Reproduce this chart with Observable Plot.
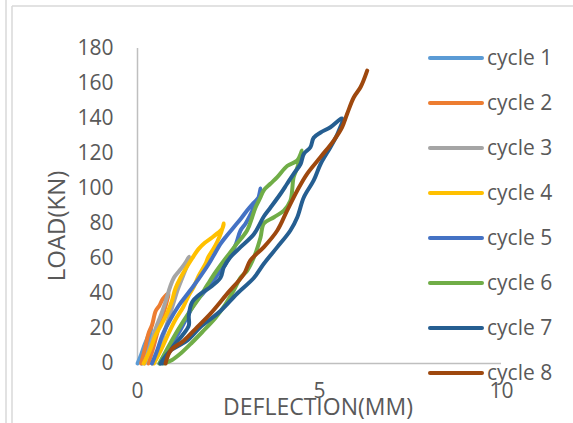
<!DOCTYPE html>
<html>
<head>
<meta charset="utf-8">
<script src="https://cdn.jsdelivr.net/npm/d3@7"></script>
<script src="https://cdn.jsdelivr.net/npm/@observablehq/plot@0.6"></script>
<style>
  html, body { margin: 0; padding: 0; background: #fff; }
  #chart { width: 573px; height: 423px; position: relative; }
</style>
</head>
<body>
<div id="chart"></div>
<script>
// ---- data (deflection mm, load kN) ----
const seriesNames = ["cycle 1", "cycle 2", "cycle 3", "cycle 4", "cycle 5", "cycle 6", "cycle 7", "cycle 8"];
const seriesColors = ["#5B9BD5", "#ED7D31", "#A5A5A5", "#FFC000", "#4472C4", "#70AD47", "#255E91", "#9E480E"];
const xTicks = [0, 5, 10];
const yTicks = [0, 20, 40, 60, 80, 100, 120, 140, 160, 180];

const cycle1 = [[0,0],[0.1,5],[0.2,11],[0.3,16],[0.38,20.5],[0.36,18],[0.3,12],[0.22,6],[0.12,0]];
const cycle2 = [[0.1,0],[0.2,8],[0.3,17],[0.4,22],[0.5,30],[0.6,33],[0.7,37],[0.85,40],[0.8,35],[0.7,28],[0.55,18],[0.42,8],[0.3,0]];
const cycle3 = [[0.2,0],[0.35,10],[0.5,20],[0.65,28],[0.78,36],[0.9,44],[1.0,49],[1.15,53],[1.3,57],[1.42,61],[1.38,57],[1.25,50],[1.1,42],[0.95,32],[0.8,22],[0.65,12],[0.5,4],[0.4,0]];
const cycle4 = [[0.17,0],[0.35,8],[0.49,16],[0.65,22],[0.82,29],[0.95,36],[1.04,42.7],[1.18,49],[1.32,54],[1.5,60],[1.68,65.5],[1.85,69],[2.05,72],[2.2,74.5],[2.33,77],[2.37,80],[2.3,75],[2.2,70],[2.1,66],[1.95,61],[1.87,57],[1.68,50],[1.55,44],[1.41,39],[1.25,32],[1.04,25],[0.85,17],[0.65,8],[0.45,0]];
const cycle5 = [[0.4,0],[0.55,8],[0.68,16],[0.86,23.6],[1.13,33],[1.41,40.7],[1.68,48.4],[1.96,57],[2.1,62],[2.28,68.4],[2.45,73],[2.65,78],[2.85,83],[3.01,87.4],[3.2,92],[3.33,95],[3.38,100],[3.3,93],[3.15,87],[2.97,80],[2.83,76],[2.7,68],[2.55,62],[2.4,56],[2.28,53],[2.05,46.5],[1.8,40],[1.59,35],[1.4,28],[1.2,20],[1.0,13],[0.8,6],[0.62,0]];
const cycle6 = [[0.6,0],[0.86,10],[1.13,19.8],[1.41,29],[1.68,37],[1.91,44.6],[2.14,52],[2.42,60],[2.69,67.4],[3.01,76],[3.15,83.6],[3.24,89],[3.38,95],[3.47,99],[3.65,102.7],[3.84,106.5],[4.12,113],[4.39,116],[4.52,121.7],[4.39,112],[4.29,106.5],[4.2,93],[4.02,87.4],[3.75,83.6],[3.47,80],[3.38,72],[3.2,60.7],[3.01,53],[2.83,49],[2.65,42],[2.42,34],[2.14,26],[1.78,18],[1.5,12],[1.2,6],[0.95,2],[0.72,0]];
const cycle7 = [[0.63,0],[0.91,7.4],[1.36,13],[1.73,20.8],[2.28,30],[2.74,40],[3.2,49],[3.47,57],[3.84,66.5],[4.2,76],[4.39,83.6],[4.57,95],[4.84,104.6],[5.03,114],[5.3,123.6],[5.49,131],[5.62,140],[5.3,135],[5.03,132],[4.84,129],[4.75,123.6],[4.57,119.8],[4.48,114],[4.29,108.4],[4.11,102.7],[3.93,97],[3.65,89],[3.47,84],[3.2,74],[2.83,66.5],[2.55,60.7],[2.37,55],[2.28,49],[2.0,43.6],[1.73,39.8],[1.5,35],[1.41,27.4],[1.41,21.7],[1.23,16],[1.0,10.3],[0.82,4.6],[0.68,0]];
const cycle8 = [[0.77,0],[0.91,7.4],[1.27,13],[1.64,20.8],[2.0,28.4],[2.46,39.8],[2.92,51],[3.1,58.9],[3.47,66.5],[3.84,76],[4.11,87.4],[4.39,98.9],[4.66,108.4],[5.03,118],[5.39,127.4],[5.62,135],[5.76,142.7],[5.94,152],[6.13,158],[6.31,167.4]];

const allCycles = [cycle1, cycle2, cycle3, cycle4, cycle5, cycle6, cycle7, cycle8];
const rows = allCycles.flatMap((pts, i) => pts.map(([x, y]) => ({x, y, series: seriesNames[i]})));

const W = 573, H = 423;
const font = "'Open Sans', sans-serif";
const textColor = "#595959";
const axisColor = "#BFBFBF";

const chart = Plot.plot({
  width: W,
  height: H,
  marginLeft: 137,
  marginRight: 72,
  marginTop: 48,
  marginBottom: 60,
  style: {fontFamily: font, fontSize: "21px", color: textColor, background: "#fff", overflow: "visible"},
  x: {domain: [0, 10], ticks: xTicks, tickSize: 0, tickPadding: 20, label: null},
  y: {domain: [0, 180], ticks: yTicks, tickSize: 0, tickPadding: 24, label: null},
  color: {domain: seriesNames, range: seriesColors},
  marks: [
    Plot.ruleX([0], {stroke: axisColor, strokeWidth: 1.5}),
    Plot.ruleY([0], {stroke: axisColor, strokeWidth: 1.5}),
    Plot.line(rows, {x: "x", y: "y", z: "series", stroke: "series", strokeWidth: 4, curve: "catmull-rom", strokeLinecap: "round", strokeLinejoin: "round"})
  ]
});

document.getElementById("chart").appendChild(chart);

const svg = d3.select(chart);
// frame lines
const frame = svg.insert("g", ":first-child").attr("stroke", "#D9D9D9").attr("stroke-width", 1.5);
frame.append("line").attr("x1", 6).attr("x2", 6).attr("y1", 0).attr("y2", H);
frame.append("line").attr("x1", 12).attr("x2", 12).attr("y1", 6).attr("y2", H);
frame.append("line").attr("x1", 12).attr("x2", W).attr("y1", 6).attr("y2", 6);

// axis titles
svg.append("text").text("DEFLECTION(MM)")
  .attr("x", 318).attr("y", 415).attr("text-anchor", "middle")
  .attr("fill", textColor).style("font-family", font).style("font-size", "23px");
svg.append("text").text("LOAD(KN)")
  .attr("transform", "translate(65,226) rotate(-90)").attr("text-anchor", "middle")
  .attr("fill", textColor).style("font-family", font).style("font-size", "24px");

// legend
const leg = svg.append("g");
seriesNames.forEach((name, i) => {
  const cy = 58 + i * 45;
  leg.append("line").attr("x1", 430).attr("x2", 482).attr("y1", cy).attr("y2", cy)
    .attr("stroke", seriesColors[i]).attr("stroke-width", 4).attr("stroke-linecap", "round");
  leg.append("text").text(name).attr("x", 487).attr("y", cy).attr("dy", "0.35em")
    .attr("text-anchor", "start")
    .attr("fill", textColor).style("font-family", font).style("font-size", "21px");
});
</script>
</body>
</html>
